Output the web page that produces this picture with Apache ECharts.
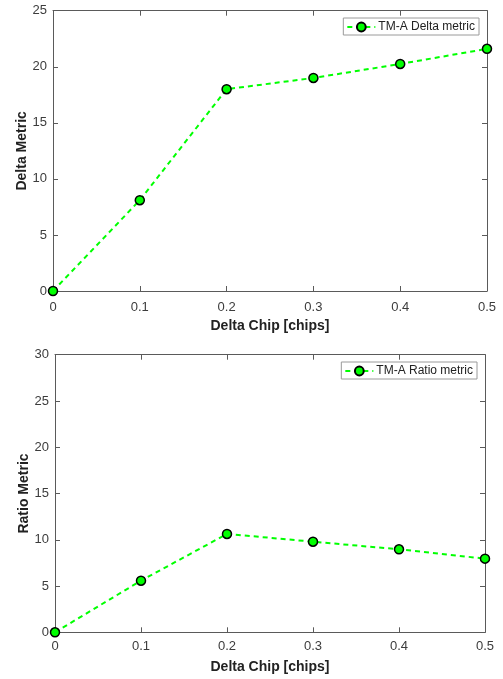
<!DOCTYPE html>
<html>
<head>
<meta charset="utf-8">
<script src="https://cdn.jsdelivr.net/npm/echarts@6/dist/echarts.min.js"></script>
<style>
  html, body { margin: 0; padding: 0; background: #fff; }
  #chart { width: 503px; height: 679px; }
</style>
</head>
<body>
<div id="chart"></div>
<script>
// Chip offsets shared by both panels
const deltaChip = [0, 0.1, 0.2, 0.3, 0.4, 0.5];
// TM-A metrics measured at each offset
const deltaMetric = [0, 8.1, 18.0, 19.0, 20.25, 21.6];
const ratioMetric = [0, 5.58, 10.63, 9.79, 8.97, 7.96];

const FONT = '"Liberation Sans", Arial, sans-serif';
const AXIS_COLOR = '#5a5a5a';
const LABEL_COLOR = '#3c3c3c';
const GREEN = '#00ff00';

const pairs = (xs, ys) => xs.map((x, i) => [x, ys[i]]);

// A Matlab-style box: labelled bottom/left axes plus mirrored top/right axes
function xAxes(gridIndex, labelMargin) {
  const base = {
    gridIndex, type: 'value', min: 0, max: 0.5, interval: 0.1,
    splitLine: { show: false },
    axisLine: { show: true, onZero: false, lineStyle: { color: AXIS_COLOR, width: 1 } },
    axisTick: { show: true, inside: true, length: 5, lineStyle: { color: AXIS_COLOR } }
  };
  return [
    Object.assign({}, base, {
      position: 'bottom',
      name: 'Delta Chip [chips]', nameLocation: 'middle', nameGap: 28,
      nameMoveOverlap: false,
      nameTextStyle: { fontFamily: FONT, fontWeight: 'bold', fontSize: 14, color: '#222' },
      axisLabel: {
        fontFamily: FONT, fontSize: 13, color: LABEL_COLOR, margin: labelMargin,
        formatter: v => String(+v.toFixed(1))
      }
    }),
    Object.assign({}, base, { position: 'top', axisLabel: { show: false } })
  ];
}

function yAxes(gridIndex, max, title) {
  const base = {
    gridIndex, type: 'value', min: 0, max, interval: 5,
    splitLine: { show: false },
    axisLine: { show: true, onZero: false, lineStyle: { color: AXIS_COLOR, width: 1 } },
    axisTick: { show: true, inside: true, length: 5, lineStyle: { color: AXIS_COLOR } }
  };
  return [
    Object.assign({}, base, {
      position: 'left',
      name: title, nameLocation: 'middle', nameGap: 24,
      nameMoveOverlap: false,
      nameTextStyle: { fontFamily: FONT, fontWeight: 'bold', fontSize: 14, color: '#222' },
      axisLabel: { fontFamily: FONT, fontSize: 13, color: LABEL_COLOR, margin: 6 }
    }),
    Object.assign({}, base, { position: 'right', axisLabel: { show: false } })
  ];
}

function lineSeries(name, xi, yi, data) {
  return {
    name, type: 'line', xAxisIndex: xi, yAxisIndex: yi, data,
    symbol: 'circle', symbolSize: 9,
    itemStyle: { color: GREEN, borderColor: '#000', borderWidth: 1.5 },
    lineStyle: { color: GREEN, width: 2, type: [5, 4] },
    emphasis: { disabled: true },
    animation: false
  };
}

function legendFor(name, top, right) {
  return {
    data: [name], top, right,
    orient: 'vertical',
    backgroundColor: '#fff',
    borderColor: '#9a9a9a', borderWidth: 1, borderRadius: 0,
    padding: [3, 4, 2, 3],
    itemWidth: 28, itemHeight: 11, itemGap: 4,
    textStyle: { fontFamily: FONT, fontSize: 12, color: '#222', padding: [0, 0, 0, -2] },
    selectedMode: false
  };
}

const chart = echarts.init(document.getElementById('chart'), null, { renderer: 'canvas' });
chart.setOption({
  backgroundColor: '#fff',
  animation: false,
  grid: [
    { left: 53, right: 16, top: 10.7, height: 280.3 },
    { left: 55, right: 18, top: 354.7, height: 277.6 }
  ],
  xAxis: [...xAxes(0, 10), ...xAxes(1, 8)],
  yAxis: [...yAxes(0, 25, 'Delta Metric'), ...yAxes(1, 30, 'Ratio Metric')],
  legend: [
    legendFor('TM-A Delta metric', 18, 24),
    legendFor('TM-A Ratio metric', 362, 26)
  ],
  series: [
    lineSeries('TM-A Delta metric', 0, 0, pairs(deltaChip, deltaMetric)),
    lineSeries('TM-A Ratio metric', 2, 2, pairs(deltaChip, ratioMetric))
  ]
});
</script>
</body>
</html>
